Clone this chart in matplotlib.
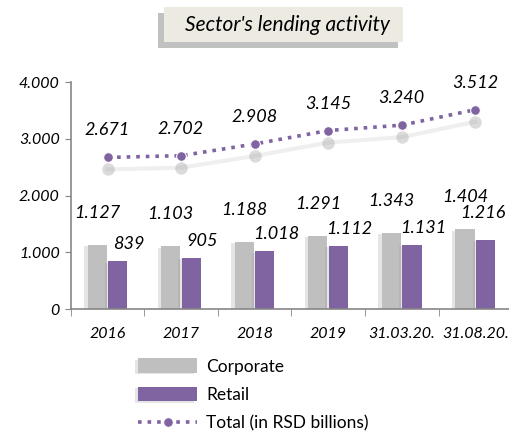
import numpy as np
import matplotlib.pyplot as plt
import matplotlib.patheffects as pe
import matplotlib.transforms as mtransforms
from matplotlib.patches import FancyBboxPatch

plt.rcParams['font.family'] = ['Lato', 'DejaVu Sans']

# data (RSD billions)
periods = ['2016', '2017', '2018', '2019', '31.03.20.', '31.08.20.']
corporate = [1127, 1103, 1188, 1291, 1343, 1404]
retail = [839, 905, 1018, 1112, 1131, 1216]
total = [2671, 2702, 2908, 3145, 3240, 3512]

def fmt(v):
    return f"{v:,}".replace(',', '.')

gray = '#BFBFBF'
purple = '#8064A2'

fig = plt.figure(figsize=(5.09, 4.34), dpi=100)
ax = fig.add_axes([0.139, 0.288, 0.867, 0.523])

x = np.arange(len(periods))
w = 0.26
shadow = [pe.SimplePatchShadow(offset=(-2.5, -1), shadow_rgbFace='#9A9A9A', alpha=0.25), pe.Normal()]
b1 = ax.bar(x - 0.14, corporate, w, color=gray, label='Corporate', path_effects=shadow)
b2 = ax.bar(x + 0.14, retail, w, color=purple, label='Retail', path_effects=shadow)

# soft shadow under the total line
shift = ax.transData + mtransforms.ScaledTranslation(0, -12 / 100, fig.dpi_scale_trans)
ax.plot(x, total, '-', color='#CCCCCC', lw=3, alpha=0.3, transform=shift, zorder=1)
ax.plot(x, total, 'o', color='#999999', ms=9, alpha=0.35, mec='none', transform=shift, zorder=1)

ln, = ax.plot(x, total, ':', color=purple, lw=2.6, marker='o', ms=7,
              markeredgecolor='white', markeredgewidth=0.8, label='Total (in RSD billions)', zorder=3)

for i in range(len(x)):
    ax.annotate(fmt(corporate[i]), (x[i] - 0.14, corporate[i]), xytext=(0, 32),
                textcoords='offset pixels', ha='center', va='center', fontsize=13, style='italic')
    # last retail label is pushed up/left so it does not collide
    off = (-3, 27) if i == len(x) - 1 else (11, 17)
    ax.annotate(fmt(retail[i]), (x[i] + 0.14, retail[i]), xytext=off,
                textcoords='offset pixels', ha='center', va='center', fontsize=13, style='italic')
    ax.annotate(fmt(total[i]), (x[i], total[i]), xytext=(0, 27),
                textcoords='offset pixels', ha='center', va='center', fontsize=13, style='italic')

ax.set_xlim(-0.5, len(x) - 0.5)
ax.set_ylim(0, 4000)
ax.set_yticks([0, 1000, 2000, 3000, 4000])
ax.set_yticklabels(['0', '1.000', '2.000', '3.000', '4.000'], fontsize=11.5, style='italic')
ax.set_xticks(x)
ax.set_xticklabels(periods, fontsize=11.5, style='italic')
ax.set_xticks(np.arange(-0.5, len(x), 1), minor=True)
ax.tick_params(axis='x', which='major', length=0, pad=13)
ax.tick_params(axis='x', which='minor', length=5, color='#868686')
ax.tick_params(axis='y', length=4, color='#868686', pad=4)
for s in ['top', 'right']:
    ax.spines[s].set_visible(False)
for s in ['left', 'bottom']:
    ax.spines[s].set_color('#868686')
    ax.spines[s].set_linewidth(1.2)

leg = fig.legend(handles=[b1, b2, ln], loc='upper left', bbox_to_anchor=(0.258, 0.19),
                 frameon=False, fontsize=12.5, handlelength=3.4, handleheight=0.9,
                 labelspacing=0.7, handletextpad=0.5, borderaxespad=0)

# title box
box = FancyBboxPatch((0.322, 0.903), 0.470, 0.080, boxstyle='square,pad=0',
                     transform=fig.transFigure, facecolor='#ECEAE1', edgecolor='none',
                     path_effects=[pe.SimplePatchShadow(offset=(-4, -4), shadow_rgbFace='#777777', alpha=0.45), pe.Normal()])
fig.patches.append(box)
fig.text(0.565, 0.942, "Sector's lending activity", ha='center', va='center',
         fontsize=15, style='italic')

fig.savefig('out.png', dpi=100)
